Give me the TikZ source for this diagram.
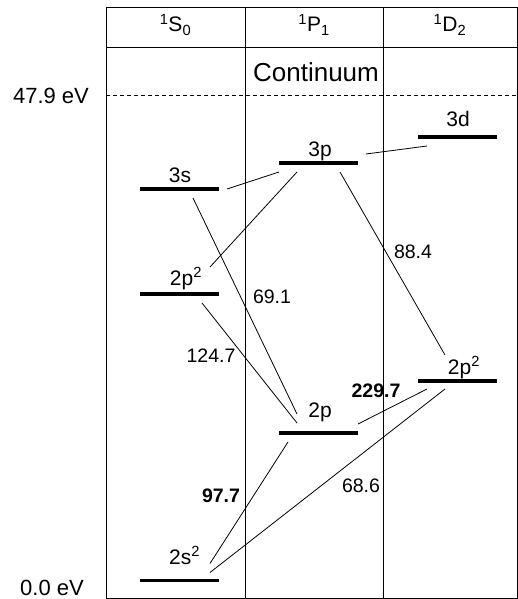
\documentclass[tikz,border=0pt]{standalone}
\usepackage{fontspec}
\setmainfont{Liberation Sans}
\usetikzlibrary{calc}

\tikzset{
  frame/.style={line width=0.9pt},
  elevel/.style={fill=black, minimum width=79pt, minimum height=3.5pt, inner sep=0pt},
  levlbl/.style={anchor=base, inner sep=0pt, font=\fontsize{21}{25}\selectfont},
  ratelbl/.style={anchor=base, inner sep=0pt, font=\fontsize{19.5}{23}\selectfont},
  trans/.style={line width=0.8pt},
}

\begin{document}
\begin{tikzpicture}[x=1pt, y=-1pt]
  \useasboundingbox (0,0) rectangle (518,599);

  % table of terms
  \draw[frame] (106,7) rectangle (517,598);
  \draw[frame] (106,47) -- (517,47);
  \draw[frame] (245,7) -- (245,598);
  \draw[frame] (383,7) -- (383,598);
  \draw[frame, dash pattern=on 4pt off 3pt] (106,95) -- (517,95);
  \node[levlbl] (hS) at (175.5,32) {\textsuperscript{1}S\textsubscript{0}};
  \node[levlbl] (hP) at (314,32) {\textsuperscript{1}P\textsubscript{1}};
  \node[levlbl] (hD) at (450,32) {\textsuperscript{1}D\textsubscript{2}};
  \node[levlbl, font=\fontsize{26}{30}\selectfont] (cont) at (316,82) {Continuum};

  % energy scale
  \node[levlbl, font=\fontsize{22}{26}\selectfont] (top) at (51,103) {47.9 eV};
  \node[levlbl, font=\fontsize{22}{26}\selectfont] (bot) at (52,595) {0.0 eV};

  % levels
  \node[elevel] (s3s) at (179.5,189) {};
  \node[elevel] (s2p2) at (179.5,294) {};
  \node[elevel] (s2s2) at (179.5,580.5) {};
  \node[elevel] (p3p) at (318.5,163) {};
  \node[elevel] (p2p) at (318.5,433) {};
  \node[elevel] (d3d) at (457.5,137) {};
  \node[elevel] (d2p2) at (457.5,381) {};

  \node[levlbl] (t3s) at (180,182) {3s};
  \node[levlbl] (t2p2s) at (186,285) {2p\textsuperscript{2}};
  \node[levlbl] (t2s2) at (184.5,564) {2s\textsuperscript{2}};
  \node[levlbl] (t3p) at (320,156) {3p};
  \node[levlbl] (t2p) at (320,417) {2p};
  \node[levlbl] (t3d) at (458,127) {3d};
  \node[levlbl] (t2p2d) at (464,374) {2p\textsuperscript{2}};

  % transitions
  \draw[trans] ($(s3s)+(47.5,0)$) -- ($(p3p)+(-39.5,9)$);
  \draw[trans] ($(p3p)+(47.5,-9)$) -- ($(d3d)+(-30.5,9)$);
  \draw[trans] ($(p3p)+(-21.5,9)$) -- ($(s2p2)+(30.5,-27)$);
  \draw[trans] ($(s3s)+(13.5,9)$) -- ($(p2p)+(-21.5,-19)$);
  \draw[trans] ($(s2p2)+(22.5,9)$) -- ($(p2p)+(-21.5,-10)$);
  \draw[trans] ($(p3p)+(21.5,9)$) -- ($(d2p2)+(-12.5,-26)$);
  \draw[trans] ($(p2p)+(39.5,-9)$) -- ($(d2p2)+(-30.5,8)$);
  \draw[trans] ($(p2p)+(-30.5,9)$) -- ($(s2s2)+(30.5,-17)$);
  \draw[trans] ($(s2s2)+(30.5,-8)$) -- ($(d2p2)+(-12.5,8)$);

  % rates
  \node[ratelbl] (r691) at (272,303) {69.1};
  \node[ratelbl] (r884) at (413,258) {88.4};
  \node[ratelbl] (r1247) at (211,362) {124.7};
  \node[ratelbl, font=\fontsize{19.5}{23}\selectfont\bfseries] (r2297) at (376,397) {229.7};
  \node[ratelbl, font=\fontsize{19.5}{23}\selectfont\bfseries] (r977) at (221,502) {97.7};
  \node[ratelbl] (r686) at (361,492) {68.6};
\end{tikzpicture}
\end{document}
